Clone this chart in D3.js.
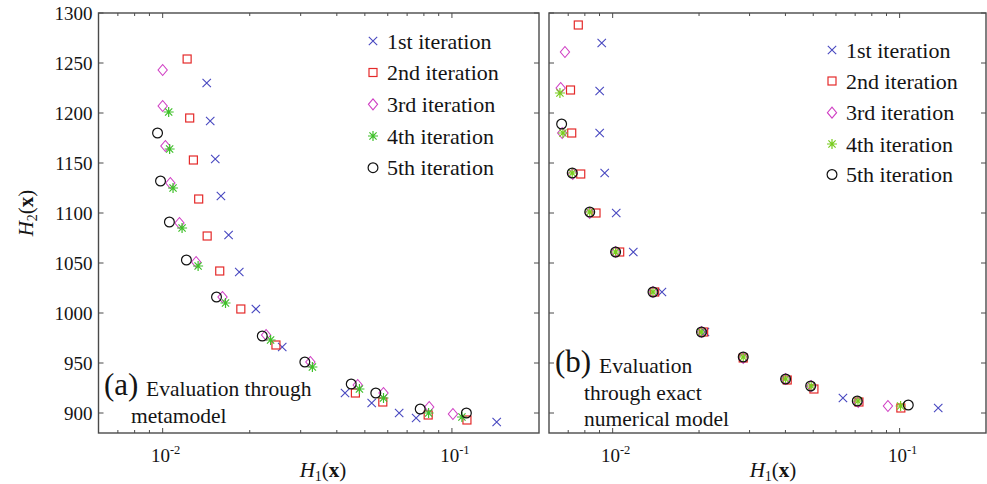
<!DOCTYPE html>
<html><head><meta charset="utf-8">
<script src="https://cdn.jsdelivr.net/npm/d3@7"></script>
<style>
body{margin:0;background:#fff}
svg text{font-family:'Liberation Serif', Tinos, 'Times New Roman', 'DejaVu Serif', serif;fill:#141414}
</style>
</head><body>
<svg id="c" width="987" height="484" font-family="'Liberation Serif', Tinos, 'DejaVu Serif', serif"></svg>
<script>
// ---------- data ----------
const yTicks = [900, 950, 1000, 1050, 1100, 1150, 1200, 1250, 1300];
const xMajorTicks = [0.01, 0.1];
const xMajorLabels = ["-2", "-1"];
const xMinorTicks = [0.007, 0.008, 0.009, 0.02, 0.03, 0.04, 0.05, 0.06, 0.07, 0.08, 0.09];
const legendLabels = ["1st iteration", "2nd iteration", "3rd iteration", "4th iteration", "5th iteration"];
const markerTypes = ["cross", "square", "diamond", "star", "circle"];
const seriesColorsA = ["#4848c0", "#e42a2a", "#d040c4", "#3fc02a", "#111111"];
const seriesColorsB = ["#4848c0", "#e42a2a", "#d040c4", "#78cc1e", "#111111"];

// panel (a): evaluation through metamodel  [H1, H2]
const metaIter1 = [[0.0142,1230],[0.0146,1192],[0.0152,1154],[0.0159,1117],[0.0169,1078],[0.0184,1041],[0.0210,1004],[0.0259,966],[0.0427,920],[0.0528,910],[0.0657,900],[0.0752,895],[0.1428,891]];
const metaIter2 = [[0.01215,1254],[0.0124,1195],[0.01277,1153],[0.01332,1114],[0.01425,1077],[0.01575,1042],[0.01863,1004],[0.02464,968],[0.04638,920],[0.05768,911],[0.08278,898],[0.1127,893]];
const metaIter3 = [[0.0100,1243],[0.0100,1207],[0.01022,1167],[0.01063,1130],[0.01143,1090],[0.01305,1051],[0.0161,1016],[0.02278,978],[0.03241,951],[0.04724,928],[0.0580,920],[0.08346,906],[0.1008,899]];
const metaIter4 = [[0.01049,1201],[0.01057,1164],[0.01086,1125],[0.01167,1085],[0.01326,1047],[0.01649,1010],[0.02361,973],[0.03293,946],[0.04789,924],[0.0580,915],[0.08305,900],[0.1083,896]];
const metaIter5 = [[0.0096,1180],[0.00983,1132],[0.01055,1091],[0.01208,1053],[0.01535,1016],[0.0221,977],[0.03101,951],[0.04486,929],[0.05455,920],[0.07768,904],[0.1122,900]];

// panel (b): evaluation through exact numerical model
const exactIter1 = [[0.00916,1270],[0.00901,1222],[0.00901,1180],[0.00938,1140],[0.01029,1100],[0.0118,1061],[0.01485,1021],[0.02097,981],[0.06346,915],[0.1363,905]];
const exactIter2 = [[0.00759,1288],[0.00713,1223],[0.0072,1180],[0.00774,1139],[0.00875,1100],[0.01058,1061],[0.01401,1021],[0.02075,981],[0.02851,955],[0.04058,933],[0.05028,924],[0.07216,911],[0.101,905]];
const exactIter3 = [[0.00682,1261],[0.00659,1225],[0.00667,1180],[0.00726,1139],[0.00832,1100],[0.01024,1061],[0.01382,1021],[0.02042,981],[0.02851,955],[0.04006,934],[0.0492,927],[0.07175,911],[0.09105,907]];
const exactIter4 = [[0.00655,1220],[0.00671,1180],[0.00723,1140],[0.00832,1101],[0.01024,1061],[0.01382,1021],[0.02036,981],[0.02851,956],[0.04006,934],[0.0492,927],[0.07159,912],[0.1008,907]];
const exactIter5 = [[0.00664,1189],[0.00723,1140],[0.00832,1101],[0.01024,1061],[0.01382,1021],[0.02039,981],[0.02851,956],[0.04006,934],[0.04897,927],[0.07118,912],[0.1072,908]];

const xDomain = [0.006, 0.2];
const yDomain = [880, 1300];

// ---------- layout ----------
const svg = d3.select("#c");
const panels = [
  {x0: 98.5, x1: 539, y0: 13, y1: 433, series: [metaIter1, metaIter2, metaIter3, metaIter4, metaIter5], colors: seriesColorsA,
   yLabels: true, legendX: 373, legendY: [41, 72.5, 104.3, 136, 167.7], xLabelX: 323,
   tag: "(a)", tagX: 104, tagY: 395, notes: [{t: "Evaluation through", x: 146, y: 396}, {t: "metamodel", x: 131, y: 423}]},
  {x0: 549, x1: 986, y0: 13, y1: 433, series: [exactIter1, exactIter2, exactIter3, exactIter4, exactIter5], colors: seriesColorsB,
   yLabels: false, legendX: 832, legendY: [50, 81, 112.7, 144, 174.5], xLabelX: 773,
   tag: "(b)", tagX: 555, tagY: 372, notes: [{t: "Evaluation", x: 599, y: 373}, {t: "through exact", x: 584, y: 400}, {t: "numerical model", x: 584, y: 426}]}
];
const axisColor = "#4a4a4a";

function drawMarker(g, type, color) {
  const s = 4.2;
  if (type === "cross") {
    g.append("path").attr("d", `M${-s},${-s}L${s},${s}M${-s},${s}L${s},${-s}`)
      .attr("stroke", color).attr("stroke-width", 1.1).attr("fill", "none");
  } else if (type === "square") {
    g.append("rect").attr("x", -4).attr("y", -4).attr("width", 8).attr("height", 8)
      .attr("stroke", color).attr("stroke-width", 1.2).attr("fill", "none");
  } else if (type === "diamond") {
    g.append("path").attr("d", "M0,-5.5L4.6,0L0,5.5L-4.6,0Z")
      .attr("stroke", color).attr("stroke-width", 1.1).attr("fill", "none");
  } else if (type === "star") {
    const r = 5, d = 3.6;
    g.append("path").attr("d", `M${-r},0L${r},0M0,${-r}L0,${r}M${-d},${-d}L${d},${d}M${-d},${d}L${d},${-d}`)
      .attr("stroke", color).attr("stroke-width", 1.2).attr("fill", "none");
  } else {
    g.append("circle").attr("r", 4.9)
      .attr("stroke", color).attr("stroke-width", 1.2).attr("fill", "none");
  }
}

function mathLabel(parent, x, y, sub, rotate) {
  const t = parent.append("text").attr("font-size", 21)
    .attr("transform", `translate(${x},${y})` + (rotate ? " rotate(-90)" : ""))
    .attr("text-anchor", "middle");
  t.append("tspan").attr("font-style", "italic").text("H");
  t.append("tspan").attr("font-size", 14).attr("dy", 4).text(sub);
  t.append("tspan").attr("dy", -4).text("(");
  t.append("tspan").attr("font-weight", "bold").text("x");
  t.append("tspan").text(")");
}

panels.forEach((p) => {
  const x = d3.scaleLog().domain(xDomain).range([p.x0, p.x1]);
  const y = d3.scaleLinear().domain(yDomain).range([p.y1, p.y0]);
  const g = svg.append("g");

  yTicks.forEach(v => {
    const yy = y(v);
    g.append("line").attr("x1", p.x0).attr("x2", p.x0 + 5).attr("y1", yy).attr("y2", yy).attr("stroke", axisColor).attr("stroke-width", 1);
    g.append("line").attr("x1", p.x1).attr("x2", p.x1 - 5).attr("y1", yy).attr("y2", yy).attr("stroke", axisColor).attr("stroke-width", 1);
    if (p.yLabels) {
      g.append("text").attr("x", p.x0 - 6).attr("y", yy + 6.5).attr("text-anchor", "end")
        .attr("font-size", 19).text(v);
    }
  });
  xMajorTicks.forEach((v, i) => {
    const xx = x(v);
    g.append("line").attr("x1", xx).attr("x2", xx).attr("y1", p.y1).attr("y2", p.y1 - 5).attr("stroke", axisColor).attr("stroke-width", 1);
    g.append("line").attr("x1", xx).attr("x2", xx).attr("y1", p.y0).attr("y2", p.y0 + 5).attr("stroke", axisColor).attr("stroke-width", 1);
    const t = g.append("text").attr("x", xx + 3).attr("y", 462).attr("text-anchor", "middle").attr("font-size", 19);
    t.append("tspan").text("10");
    t.append("tspan").attr("font-size", 12.5).attr("dy", -8.5).text(xMajorLabels[i]);
  });
  xMinorTicks.forEach(v => {
    const xx = x(v);
    g.append("line").attr("x1", xx).attr("x2", xx).attr("y1", p.y1).attr("y2", p.y1 - 3).attr("stroke", axisColor).attr("stroke-width", 1);
    g.append("line").attr("x1", xx).attr("x2", xx).attr("y1", p.y0).attr("y2", p.y0 + 3).attr("stroke", axisColor).attr("stroke-width", 1);
  });

  g.append("rect").attr("x", p.x0).attr("y", p.y0).attr("width", p.x1 - p.x0).attr("height", p.y1 - p.y0)
    .attr("fill", "none").attr("stroke", axisColor).attr("stroke-width", 1.4);

  p.series.forEach((data, si) => {
    const sg = g.append("g");
    data.forEach(d => {
      const m = sg.append("g").attr("transform", `translate(${x(d[0])},${y(d[1])})`);
      drawMarker(m, markerTypes[si], p.colors[si]);
    });
  });

  legendLabels.forEach((lab, i) => {
    const m = g.append("g").attr("transform", `translate(${p.legendX},${p.legendY[i]})`);
    drawMarker(m, markerTypes[i], p.colors[i]);
    g.append("text").attr("x", p.legendX + 14).attr("y", p.legendY[i] + 7.5).attr("font-size", 22).text(lab);
  });

  g.append("text").attr("x", p.tagX).attr("y", p.tagY).attr("font-size", 31).text(p.tag);
  p.notes.forEach(n => g.append("text").attr("x", n.x).attr("y", n.y).attr("font-size", 21.5).text(n.t));

  mathLabel(g, p.xLabelX, 477, "1", false);
});

mathLabel(svg, 33, 213, "2", true);
</script>
</body></html>
